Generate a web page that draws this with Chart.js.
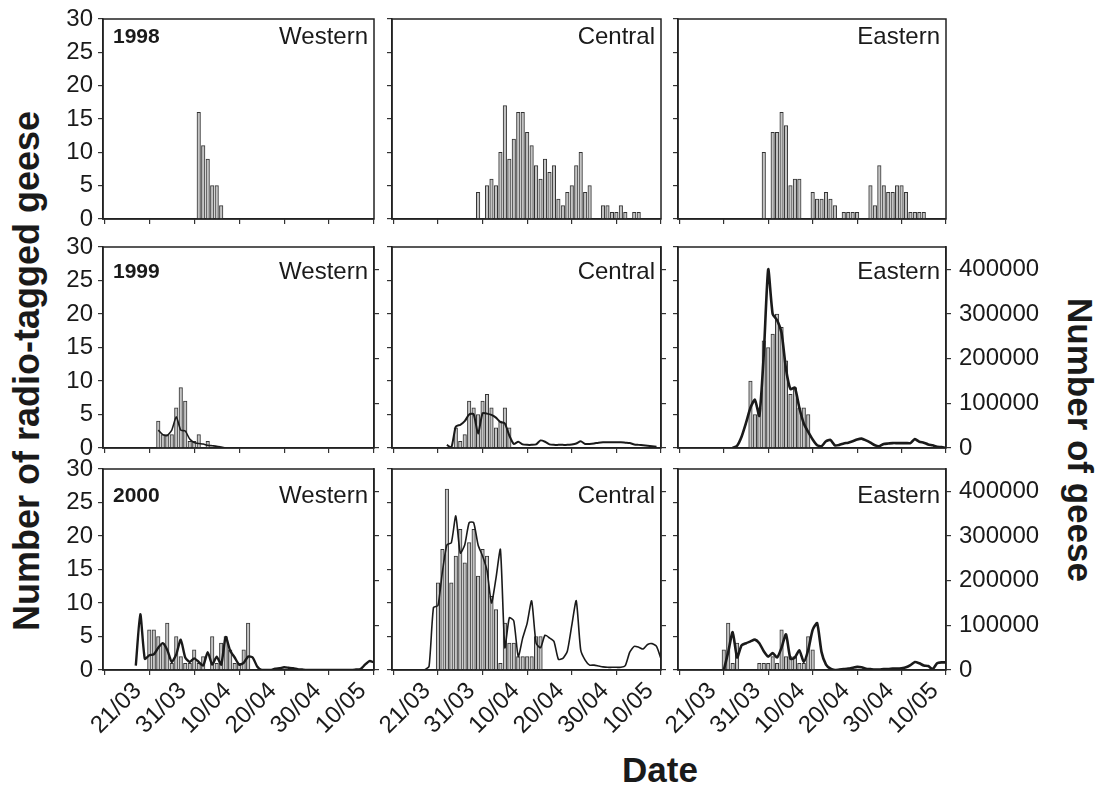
<!DOCTYPE html>
<html>
<head>
<meta charset="utf-8">
<script src="https://cdn.jsdelivr.net/npm/chart.js@4.4.1/dist/chart.umd.min.js"></script>
<style>
  body { margin: 0; background: #fff; width: 1105px; height: 792px; position: relative; overflow: hidden; }
  canvas { position: absolute; }
  .title { position: absolute; font: bold 35px "Liberation Sans", Arial, sans-serif; color: #1a1a1a; text-align: center; white-space: nowrap; height: 40px; line-height: 40px; }
</style>
</head>
<body>
<div class="title" style="left:-273px; top:351px; width:600px; transform:rotate(-90deg); font-size:36px;">Number of radio-tagged geese</div>
<div class="title" style="left:930px; top:420px; width:300px; transform:rotate(90deg);">Number of geese</div>
<div class="title" style="left:560px; top:750px; width:200px;">Date</div>
<script>
'use strict';

// date axis: days counted from 21/03
const tickDays = [0, 10, 20, 30, 40, 50];
const tickLabels = ['21/03', '31/03', '10/04', '20/04', '30/04', '10/05'];
const countTicks = [0, 5, 10, 15, 20, 25, 30];
const geeseTicks = [0, 100000, 200000, 300000, 400000];
const years = ['1998', '1999', '2000'];
const regions = ['Western', 'Central', 'Eastern'];

// radio-tagged geese per day (first date, then one value per day)
const western1998Start = '06/04';
const western1998 = [16, 11, 9, 5, 5, 2];
const central1998Start = '04/04';
const central1998 = [4, 0, 5, 6, 5, 10, 17, 9, 12, 16, 16, 13, 11, 8, 6, 9, 7, 8, 3, 2, 4, 5, 8, 10, 4, 5, 0, 0, 2, 2, 1, 1, 2, 1, 0, 1, 1];
const eastern1998Start = '04/04';
const eastern1998 = [10, 0, 13, 13, 16, 14, 5, 6, 6, 0, 0, 4, 3, 3, 4, 3, 2, 0, 1, 1, 1, 1, 0, 0, 5, 2, 8, 5, 4, 4, 5, 5, 4, 1, 1, 1, 1];

const western1999Start = '28/03';
const western1999 = [4, 2, 2, 2, 6, 9, 7, 1, 1, 2, 0, 1];
const central1999Start = '30/03';
const central1999 = [3, 1, 2, 7, 6, 5, 7, 8, 6, 3, 4, 6, 3];
const eastern1999Start = '01/04';
const eastern1999 = [10, 5, 6, 16, 15, 17, 20, 18, 13, 8, 9, 6, 6, 5];

const western2000Start = '26/03';
const western2000 = [6, 6, 5, 4, 7, 1, 5, 2, 1, 1, 3, 1, 2, 0, 5, 1, 4, 5, 3, 1, 1, 3, 7];
const central2000Start = '26/03';
const central2000 = [13, 18, 27, 13, 17, 21, 16, 19, 21, 14, 18, 17, 11, 9, 1, 7, 4, 4, 2, 2, 2, 2, 5, 5];
const eastern2000Start = '26/03';
const eastern2000 = [3, 7, 1, 4, 0, 0, 0, 0, 1, 1, 1, 2, 1, 6, 2, 2, 2, 1, 1, 5, 3];

// total number of geese per day
const western1999LineStart = '28/03';
const western1999Line = [40000, 30000, 28000, 40000, 70000, 40000, 38000, 20000, 12000, 10000, 9000, 6000, 5000, 4000, 2000, 0];
const central1999LineStart = '28/03';
const central1999Line = [7000, 1000, 48000, 52000, 60000, 75000, 76000, 32000, 78000, 77000, 74000, 68000, 58000, 55000, 28000, 9000,
  14000, 8000, 7000, 7000, 8000, 17000, 14000, 8000, 7000, 7000, 7000, 7000, 8000, 10000, 15000, 9000,
  9000, 10000, 12000, 13000, 13000, 13000, 13000, 13000, 12000, 11000, 8000, 7000, 6000, 5000, 4000, 3000];
const eastern1999LineStart = '28/03';
const eastern1999Line = [0, 5000, 25000, 56000, 90000, 108000, 72000, 210000, 400000, 300000, 286000, 258000, 177000, 132000, 135000, 90000,
  55000, 36000, 19000, 6000, 4000, 15000, 18000, 6000, 7000, 10000, 12000, 15000, 19000, 21000, 17000, 12000,
  6000, 4000, 9000, 10000, 11000, 11000, 11000, 11000, 11000, 20000, 14000, 12000, 8000, 6000, 3000, 2000, 0];

const western2000LineStart = '23/03';
const western2000Line = [10000, 125000, 25000, 33000, 35000, 50000, 60000, 45000, 18000, 35000, 68000, 28000, 18000, 26000, 18000, 10000,
  40000, 12000, 30000, 12000, 74000, 43000, 28000, 12000, 16000, 30000, 28000, 8000, 0, 0, 0, 3000,
  4000, 6000, 5000, 4000, 2000, 1000, 0, 0, 0, 0, 0, 0, 0, 0, 0, 0, 0, 1000, 2000, 12000, 20000, 17000];
const central2000LineStart = '23/03';
const central2000Line = [0, 8000, 140000, 144000, 220000, 280000, 285000, 345000, 262000, 280000, 330000, 330000, 280000, 255000, 223000, 150000,
  205000, 270000, 50000, 117000, 110000, 30000, 72000, 105000, 155000, 60000, 50000, 78000, 72000, 64000, 24000, 26000,
  42000, 100000, 155000, 45000, 22000, 11000, 11000, 9000, 7000, 6000, 6000, 6000, 6000, 10000, 40000, 53000,
  51000, 47000, 57000, 59000, 53000, 25000];
const eastern2000LineStart = '26/03';
const eastern2000Line = [0, 40000, 85000, 28000, 55000, 60000, 64000, 68000, 60000, 42000, 30000, 38000, 28000, 50000, 80000, 25000,
  28000, 44000, 18000, 45000, 90000, 105000, 40000, 12000, 3000, 0, 1000, 2000, 3000, 5000, 7000, 6000,
  3000, 2000, 1000, 1000, 2000, 2000, 3000, 3000, 4000, 6000, 11000, 18000, 15000, 10000, 9000, 2000,
  15000, 17000, 17000];

const panels = [
  [western1998Start, western1998, null, null],
  [central1998Start, central1998, null, null],
  [eastern1998Start, eastern1998, null, null],
  [western1999Start, western1999, western1999LineStart, western1999Line],
  [central1999Start, central1999, central1999LineStart, central1999Line],
  [eastern1999Start, eastern1999, eastern1999LineStart, eastern1999Line],
  [western2000Start, western2000, western2000LineStart, western2000Line],
  [central2000Start, central2000, central2000LineStart, central2000Line],
  [eastern2000Start, eastern2000, eastern2000LineStart, eastern2000Line],
];

function dayOf(str) {
  const [d, m] = str.split('/').map(Number);
  if (m === 3) return d - 21;
  if (m === 4) return 10 + d;
  return 40 + d;
}

const FONT = '"Liberation Sans", Arial, sans-serif';
Chart.defaults.font.family = FONT;
Chart.defaults.color = '#1a1a1a';

const colX = [[103, 374], [392, 661], [678, 946]];
const rowY = [[19, 219], [247, 448], [469, 670]];
const labelDy = [18, 25, 27];
const lineWidths = [[0, 0, 0], [1.6, 2, 2.6], [2.4, 1.6, 2.6]];

const panelText = {
  id: 'panelText',
  afterDraw(chart, args, opts) {
    const { ctx, chartArea: a } = chart;
    ctx.save();
    ctx.strokeStyle = '#222';
    ctx.lineWidth = 1.5;
    ctx.strokeRect(a.left, a.top, a.right - a.left, a.bottom - a.top);
    ctx.fillStyle = '#1a1a1a';
    ctx.textBaseline = 'middle';
    if (opts.year) {
      ctx.font = 'bold 21px ' + FONT;
      ctx.textAlign = 'left';
      ctx.fillText(opts.year, a.left + 10, a.top + opts.dy);
    }
    ctx.font = '24px ' + FONT;
    ctx.textAlign = 'right';
    ctx.fillText(opts.region, a.right - 6, a.top + opts.dy);
    ctx.restore();
  }
};

panels.forEach((p, i) => {
  const row = Math.floor(i / 3);
  const col = i % 3;
  const [L, R] = colX[col];
  const [T, B] = rowY[row];
  const hasLine = p[3] !== null;
  const padL = col === 0 ? 100 : (row === 2 ? 60 : 16);
  const padR = hasLine && col === 2 ? 125 : 14;
  const padT = 20;
  const padB = row === 2 ? 90 : 18;

  const canvas = document.createElement('canvas');
  canvas.width = R - L + padL + padR;
  canvas.height = B - T + padT + padB;
  canvas.style.left = (L - padL) + 'px';
  canvas.style.top = (T - padT) + 'px';
  canvas.style.width = canvas.width + 'px';
  canvas.style.height = canvas.height + 'px';
  document.body.appendChild(canvas);

  const barStart = dayOf(p[0]);
  const datasets = [{
    type: 'bar',
    data: p[1].map((v, k) => ({ x: barStart + k, y: v || null })),
    yAxisID: 'y',
    backgroundColor: '#c4c4c4',
    borderColor: '#333',
    borderWidth: 1,
    barThickness: 3.5,
    order: 2,
  }];
  if (hasLine) {
    const lineStart = dayOf(p[2]);
    datasets.push({
      type: 'line',
      data: p[3].map((v, k) => ({ x: lineStart + k, y: v })),
      yAxisID: 'y1',
      borderColor: '#1a1a1a',
      borderWidth: lineWidths[row][col],
      pointRadius: 0,
      tension: 0.2,
      order: 1,
    });
  }

  const tickGrid = { drawOnChartArea: false, drawTicks: true, tickLength: 5, color: '#333', lineWidth: 1.2 };
  const scales = {
    x: {
      type: 'linear', min: -5.3, max: 55, position: 'bottom', offset: false,
      afterBuildTicks: s => { s.ticks = tickDays.map(v => ({ value: v })); },
      ticks: {
        display: row === 2, autoSkip: false, minRotation: 45, maxRotation: 45, padding: 2, labelOffset: 11,
        font: { size: 24 }, color: '#1a1a1a',
        callback: (v, idx) => tickLabels[idx],
      },
      grid: tickGrid,
      border: { color: '#222', width: 1.5 },
      afterFit: s => { s.height = padB; s.paddingLeft = 0; s.paddingRight = 0; },
    },
    y: {
      min: 0, max: 30, position: 'left',
      afterBuildTicks: s => { s.ticks = countTicks.map(v => ({ value: v })); },
      ticks: { display: col === 0, padding: 5, font: { size: 24 }, color: '#1a1a1a', callback: v => String(v) },
      grid: tickGrid,
      border: { color: '#222', width: 1.5 },
      afterFit: s => { s.width = padL; s.paddingTop = 0; s.paddingBottom = 0; },
    },
  };
  if (hasLine) {
    scales.y1 = {
      min: 0, max: 450000, position: 'right',
      afterBuildTicks: s => { s.ticks = geeseTicks.map(v => ({ value: v })); },
      ticks: { display: col === 2, padding: 8, font: { size: 24 }, color: '#1a1a1a', callback: v => String(v) },
      grid: tickGrid,
      border: { color: '#222', width: 1.5 },
      afterFit: s => { s.width = padR; s.paddingTop = 0; s.paddingBottom = 0; },
    };
  }

  new Chart(canvas, {
    type: 'bar',
    data: { datasets },
    options: {
      responsive: false,
      devicePixelRatio: 1,
      animation: false,
      layout: { padding: { top: padT, left: 0, bottom: 0, right: hasLine ? 0 : padR } },
      plugins: {
        legend: { display: false },
        tooltip: { enabled: false },
        panelText: { year: col === 0 ? years[row] : null, region: regions[col], dy: labelDy[row] },
      },
      scales,
    },
    plugins: [panelText],
  });
});
</script>
</body>
</html>
